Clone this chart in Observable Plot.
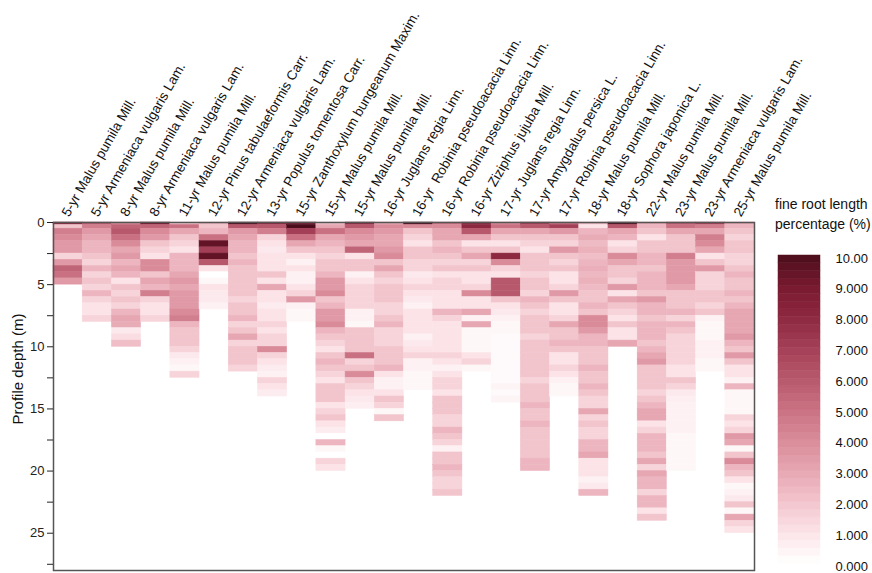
<!DOCTYPE html>
<html><head><meta charset="utf-8">
<script src="https://cdn.jsdelivr.net/npm/d3@7"></script>
<script src="https://cdn.jsdelivr.net/npm/@observablehq/plot@0.6"></script>
<style>
body{margin:0;background:#fff;font-family:"Liberation Sans",Arial,sans-serif;}
#wrap{position:relative;width:872px;height:573px;overflow:hidden;background:#fff;}
#main{position:absolute;left:0;top:0;}
#cb{position:absolute;left:770px;top:245px;}
#legtitle{position:absolute;left:775px;top:194px;font-size:14px;line-height:20px;color:#111;white-space:nowrap;}
#ylab{position:absolute;left:17px;top:369px;transform:translate(-50%,-50%) rotate(-90deg);font-size:15px;white-space:nowrap;color:#111;}
</style></head>
<body><div id="wrap"><div id="main"></div><div id="legtitle">fine root length<br>percentage (%)</div><div id="cb"></div><div id="ylab">Profile depth (m)</div></div>
<script>
const stands = [
"5-yr Malus pumila Mill.","5-yr Armeniaca vulgaris Lam.","8-yr Malus pumila Mill.","8-yr Armeniaca vulgaris Lam.",
"11-yr Malus pumila Mill.","12-yr Pinus tabulaeformis Carr.","12-yr Armeniaca vulgaris Lam.","13-yr Populus tomentosa Carr.",
"15-yr Zanthoxylum bungeanum Maxim.","15-yr Malus pumila Mill.","15-yr Malus pumila Mill.","16-yr Juglans regia Linn.",
"16-yr  Robinia pseudoacacia Linn.","16-yr Robinia pseudoacacia Linn.","16-yr Ziziphus jujuba Mill.","17-yr Juglans regia Linn.",
"17-yr Amygdalus persica L.","17-yr Robinia pseudoacacia Linn.","18-yr Malus pumila Mill.","18-yr Sophora japonica L.",
"22-yr Malus pumila Mill.","23-yr Malus pumila Mill.","23-yr Armeniaca vulgaris Lam.","25-yr Malus pumila Mill."];

// depth layer boundaries (m)
const depthEdges = [0,0.2,0.5,1,1.5,2,2.5,3,3.5,4,4.5,5,5.5,6,6.5,7,7.5,8,8.5,9,9.5,10,10.5,11,11.5,12,12.5,13,13.5,14,14.5,15,15.5,16,16.5,17,17.5,18,18.5,19,19.5,20,20.5,21,21.5,22,22.5,23,23.5,24,24.5,25];

// fine root length percentage (%) per layer, one array per stand
const v01 = [8,2,4.5,4,3.5,3.5,1.5,3.5,5.5,5,3.5];
const v02 = [6,4.5,3.5,3,2.5,2.5,2,1.5,2.5,1.5,2,1.5,2.5,1.5,1,1,1.5];
const v03 = [4,5.5,6,5,4,3,3.5,2.5,3,2.5,1,2,1.5,2,1.5,2.5,3,2.8,0.8,1.2,2.2];
const v04 = [9,5.5,4,3.5,2,1.5,1,4,4,2,3,2.5,4.5,1.5,1,1,1.5];
const v05 = [2,5,3,2,1.5,1,2.5,2.5,2.5,3,3.5,3,3.5,3.5,3.5,4,4.5,2.5,2,2,2,1.5,0.8,0.5,0.3,1.5];
const v06 = [2.5,2,2.5,5,9.5,7,9.5,6,1,0,0.3,1,0.8,0.8,0.5];
const v07 = [10,6,3.5,3,2.5,2.5,2,2.5,2,2,2,2,2,1.5,2,2,2.5,1.5,2,3,1.5,2,2,2,1.5];
const v08 = [8,6,4.5,1.5,1,0.8,1,1,1,2,1,3,1,1,0.7,1,1,1.5,1,1.5,1.5,4,1.5,1,0.7,0.5,1.5,1,0.7];
const v09 = [9,10,7,5,3,2,1,0.5,1,0.5,0.5,1,1.5,3.5,0.5,0.3,0.3];
const v10 = [2,3,5,3,2.5,2,1.5,2,2,2.5,3.5,3.5,4,2,2.5,3.5,3.5,4,2.5,2,1.5,1,2,2.5,2,1.5,1,2,2,2,1,1.5,2,1,0.7,0,2.5,0.3,0,1.5,1];
const v11 = [8,6,4,3.5,3,5.5,1,2,2,0.5,1,1.5,1.5,1.5,1.5,0.5,0.5,0.3,2,2,2,2,5,1.5,2,4,2,1.5,1,0.8,0.6];
const v12 = [3,4,3.5,3,3,3.5,4,2,3,2,1.5,2,2,2,1.5,1.5,2,2.5,1.5,1.5,1.5,2,2,2,2.5,1,0.5,0.5,1,2,1.5,0.3,2];
const v13 = [10,4,2,1.5,1,2,2,1.5,1.5,0.8,1,1.5,1,0.8,0.5,1,1,1,1,0.5,0.8,1,1.5,0.5,0.5,0.3,0.3,0.3];
const v14 = [5,4,3,3,2,2.5,2,1.5,2,1,1.5,1.5,1,1,1,2.5,1.5,1,1,1,1,1,1.5,1,0.5,1,1.5,1.5,1,2,2,2,1.5,1.5,2.5,2,1.5,0.5,2,2,2.5,2,1.5,1.5,2];
const v15 = [8,8,6,3,1,2,3,1.5,2,1,1,1.5,4,1,1,3,0.5,3,0.3,0.3,0.3,0.3,1,1.5,0.3];
const v16 = [4,5,3,2,1,2,8,4,1.5,1,6,6,6,2,1,0.8,0.5,0.3,0.3,0.2,0.2,0.2,0.2,0.2,0.2,0.2,0.2,0.4,0.2,0.4];
const v17 = [7,6,3,2,1.5,1,2,2,2,1.5,2,2,1.5,2.5,2,1.5,2,2,2,1.5,2,2,2,2,2,2,1.5,2,2,2,2.5,2,2,2.5,2,2,2,2,2,2.5,2.5];
const v18 = [5,7,3.5,2,1.5,3.5,2,1.5,2,1,1,1.5,3.5,2,1,1,1.5,3,2,2,2.5,2,1,1,1.5,1,0.5,0.3,0.3];
const v19 = [2.5,1,2.5,2.8,2.3,2.6,2.2,2.5,2.7,2.4,2.6,2.3,2,2,2.5,2,4,4,3.5,2.5,2.5,2,2,2,2.5,2,2,2.5,2,1.5,1.5,3,1.5,2,1.5,1.5,2.5,2.5,3,1,1,1,0.5,0.8,2.5];
const v20 = [10,6,3,2.5,1,1.5,4,3,2,2,1.5,3.5,1,3,2,1.5,1,2,1,1,3];
const v21 = [3,2.5,2,1,2,2,2.5,2.5,2,2.5,2.5,2.5,2,3.5,2.5,2.5,2,2.5,2.5,2.5,2,2.5,3,3.5,2,2,2,2,1.5,2,2.5,3,3,1,1.5,2.5,2.5,2.5,2,3,1.5,3,2.5,2.5,1.5,2.5,2.5,1,2];
const v22 = [6,5,3,2,2,2,4.5,3.5,3.5,3.5,3.5,3,2,2,2,2.5,1.5,2.5,2,1.5,1.5,1.5,1.5,1.5,1,1,2,1.5,0.8,0.6,0.5,0.5,0.5,0.5,0.5,0.3,0.3,0.3,0.3,0.3,0.3];
const v23 = [7,4.5,3,4.5,4,3,1,2,3.5,1.5,1.5,1.5,2,2,1.5,2,0.5,0.3,0.3,0.3,0.5,0.5,0.5,0.3,0.3];
const v24 = [3,2.5,2,1.5,2,2,1.5,1.5,2,2.5,2,2,2.5,2,2.5,3,3,3,3,3.5,2.5,2,3.5,2,1,1,0.5,2.5,0.3,0.3,0.3,0.3,1.5,1,1.5,3.5,3,0.3,2,4,2.5,2,1,0.3,0.5,0.8,2,0.3,3,1.5,1];

const colorStops = [0,1,2,3,4,5,6,7,8,9,10];
const colorHex = ["#ffffff","#fbe3e8","#f2c4cc","#e6a6b2","#d98b99","#c97182","#b7586c","#a33f56","#8c2840","#78192f","#4b0d1c"];
const depthTicks = [0,2.5,5,7.5,10,12.5,15,17.5,20,22.5,25,27.5];
const cbTicks = [10,9,8,7,6,5,4,3,2,1,0];
const cbTickLabels = ["10.00","9.000","8.000","7.000","6.000","5.000","4.000","3.000","2.000","1.000","0.000"];

const profiles = [v01,v02,v03,v04,v05,v06,v07,v08,v09,v10,v11,v12,v13,v14,v15,v16,v17,v18,v19,v20,v21,v22,v23,v24];
const cells = [];
profiles.forEach((arr, i) => arr.forEach((v, j) => cells.push({col: i, top: depthEdges[j], bottom: depthEdges[j+1], value: v})));
const idx = stands.map((s, i) => i);

const colorOpts = {type: "linear", domain: colorStops, range: colorHex, interpolate: "rgb", clamp: true};
const font = "'Liberation Sans', Arial, sans-serif";

const main = Plot.plot({
  width: 872, height: 573,
  marginLeft: 53, marginRight: 118, marginTop: 222, marginBottom: 3,
  x: {type: "band", domain: idx, padding: 0, round: false, axis: null},
  y: {domain: [0, 28], reverse: true, axis: null},
  color: colorOpts,
  style: {fontFamily: font, background: "white", color: "#111"},
  marks: [
    Plot.barY(cells, {x: "col", y1: "top", y2: "bottom", fill: "value", stroke: "value", strokeWidth: 0.5}),
    Plot.frame({stroke: "#555", strokeWidth: 1.5}),
    Plot.axisY(depthTicks, {anchor: "left", tickSize: 6, tickPadding: 3, tickFormat: d => d % 5 === 0 ? String(d) : "", fontSize: 13, color: "#222"}),
    Plot.text(idx, {x: d => d, text: d => stands[d], frameAnchor: "top", rotate: -60, textAnchor: "start", lineAnchor: "bottom", dy: -5, dx: 1, fontSize: 13.5, fill: "#111"})
  ]
});
document.getElementById("main").appendChild(main);

const cbSteps = d3.range(0, 10, 0.25);
const cbLabel = new Map(cbTicks.map((t, i) => [t, cbTickLabels[i]]));
const cb = Plot.plot({
  width: 102, height: 326,
  marginLeft: 8, marginRight: 52, marginTop: 10, marginBottom: 8,
  x: {domain: [0, 1], axis: null},
  y: {domain: [0, 10], axis: null},
  color: colorOpts,
  style: {fontFamily: font, background: "transparent", color: "#111", overflow: "visible"},
  marks: [
    Plot.rect(cbSteps, {x1: 0, x2: 1, y1: d => d, y2: d => d + 0.25, fill: d => d + 0.125, stroke: d => d + 0.125, strokeWidth: 0.5}),
    Plot.axisY(cbTicks, {anchor: "right", tickSize: 0, tickPadding: 15, dy: 3, tickFormat: d => cbLabel.get(d), fontSize: 13})
  ]
});
document.getElementById("cb").appendChild(cb);
</script>
</body></html>
